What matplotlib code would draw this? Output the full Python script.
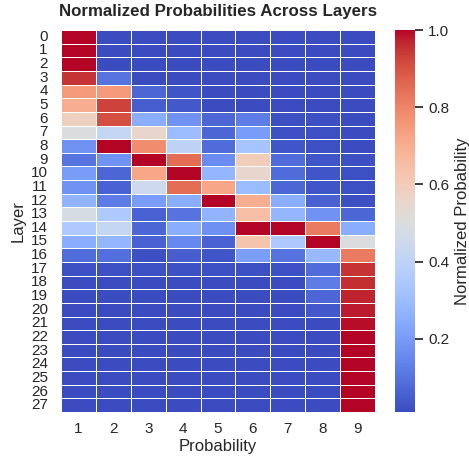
import numpy as np
import matplotlib
matplotlib.use("Agg")
import matplotlib.pyplot as plt
import seaborn as sns

layers = list(range(28))
probs = [1, 2, 3, 4, 5, 6, 7, 8, 9]

values = [
    [1.00, 0.01, 0.01, 0.01, 0.01, 0.01, 0.01, 0.01, 0.01],
    [1.00, 0.01, 0.01, 0.01, 0.01, 0.01, 0.01, 0.01, 0.01],
    [1.00, 0.01, 0.01, 0.01, 0.01, 0.01, 0.01, 0.01, 0.01],
    [0.95, 0.10, 0.01, 0.01, 0.01, 0.01, 0.01, 0.01, 0.01],
    [0.75, 0.75, 0.07, 0.03, 0.01, 0.01, 0.01, 0.01, 0.01],
    [0.70, 0.93, 0.05, 0.04, 0.01, 0.01, 0.01, 0.01, 0.01],
    [0.58, 0.91, 0.25, 0.18, 0.07, 0.12, 0.02, 0.02, 0.01],
    [0.50, 0.42, 0.55, 0.30, 0.07, 0.20, 0.02, 0.02, 0.01],
    [0.18, 1.00, 0.78, 0.40, 0.08, 0.33, 0.03, 0.02, 0.01],
    [0.10, 0.18, 1.00, 0.85, 0.16, 0.60, 0.08, 0.03, 0.02],
    [0.20, 0.07, 0.72, 1.00, 0.28, 0.55, 0.08, 0.03, 0.02],
    [0.18, 0.06, 0.45, 0.85, 0.72, 0.30, 0.07, 0.03, 0.02],
    [0.27, 0.12, 0.20, 0.25, 1.00, 0.70, 0.25, 0.06, 0.02],
    [0.48, 0.35, 0.06, 0.10, 0.27, 0.65, 0.28, 0.18, 0.07],
    [0.35, 0.42, 0.07, 0.25, 0.17, 1.00, 1.00, 0.82, 0.25],
    [0.25, 0.28, 0.06, 0.15, 0.06, 0.63, 0.35, 1.00, 0.50],
    [0.08, 0.09, 0.02, 0.05, 0.03, 0.21, 0.10, 0.29, 0.82],
    [0.02, 0.02, 0.02, 0.02, 0.02, 0.02, 0.02, 0.08, 0.95],
    [0.01, 0.01, 0.01, 0.01, 0.01, 0.01, 0.01, 0.12, 0.96],
    [0.01, 0.01, 0.01, 0.01, 0.01, 0.01, 0.01, 0.07, 0.97],
    [0.01, 0.01, 0.01, 0.01, 0.01, 0.01, 0.01, 0.04, 0.98],
    [0.01, 0.01, 0.01, 0.01, 0.01, 0.01, 0.01, 0.01, 0.99],
    [0.01, 0.01, 0.01, 0.01, 0.01, 0.01, 0.01, 0.01, 1.00],
    [0.01, 0.01, 0.01, 0.01, 0.01, 0.01, 0.01, 0.01, 1.00],
    [0.01, 0.01, 0.01, 0.01, 0.01, 0.01, 0.01, 0.01, 1.00],
    [0.01, 0.01, 0.01, 0.01, 0.01, 0.01, 0.01, 0.01, 1.00],
    [0.01, 0.01, 0.01, 0.01, 0.01, 0.01, 0.01, 0.01, 1.00],
    [0.01, 0.01, 0.01, 0.01, 0.01, 0.01, 0.01, 0.01, 1.00],
]

sns.set_theme(style="white")
plt.rcParams['font.family'] = ['Liberation Sans', 'DejaVu Sans']

fig = plt.figure(figsize=(4.69, 4.57), dpi=100)
ax = fig.add_axes([61/469, 1 - 412/457, (375-61)/469, (412-30)/457])
cax = fig.add_axes([395/469, 1 - 412/457, 20/469, (412-30)/457])

sns.heatmap(np.array(values), ax=ax, cbar_ax=cax, cmap="coolwarm",
            linewidths=0.5, linecolor="white",
            xticklabels=probs, yticklabels=layers,
            cbar_kws={"label": "Normalized Probability"})
ax.set_title("Normalized Probabilities Across Layers", fontweight="bold",
             fontsize=12.2, pad=10)
ax.set_xlabel("Probability", labelpad=1.5)
ax.set_ylabel("Layer")
ax.tick_params(axis="y", rotation=0)
ax.tick_params(axis="x", rotation=0, pad=1.5)

fig.savefig("out.png", dpi=100)
